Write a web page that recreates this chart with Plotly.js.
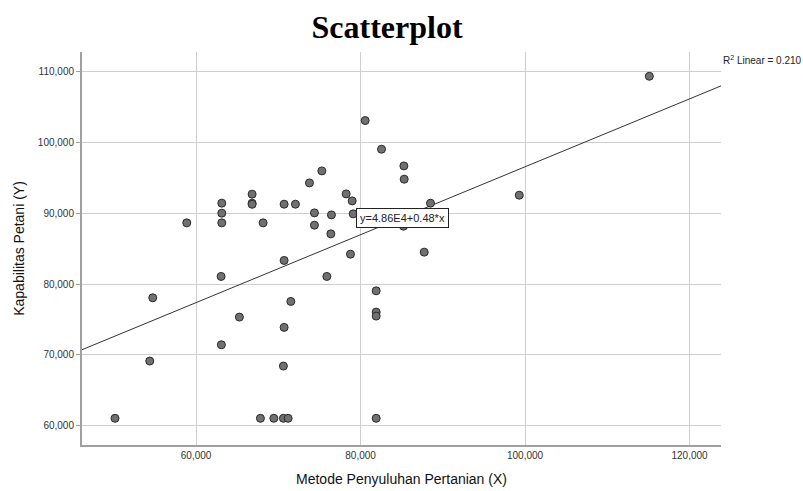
<!DOCTYPE html>
<html>
<head>
<meta charset="utf-8">
<script src="https://cdn.plot.ly/plotly-3.0.1.min.js"></script>
<style>html,body{margin:0;padding:0;background:#fff;}#chart{width:803px;height:491px;}</style>
</head>
<body>
<div id="chart"></div>
<script>
// Metode Penyuluhan Pertanian (X)
const metodeX = [50146, 54368, 54733, 58869, 63041, 63078, 63126, 63126, 63126, 65268,
  66812, 66812, 66812, 67822, 68151, 69452, 70620, 70620, 70705, 70705,
  70705, 71192, 71520, 72080, 73783, 74391, 74391, 75291, 75899, 76386,
  76459, 78248, 78771, 78978, 79099, 80559, 81897, 81897, 81897, 81897,
  82544, 85220, 85266, 85302, 87736, 88502, 99293, 115107];
// Kapabilitas Petani (Y)
const kapabilitasY = [61046, 69139, 78080, 88673, 81100, 71442, 91455, 90043, 88673, 75354,
  92726, 91455, 91300, 61046, 88673, 61046, 61046, 68434, 73899, 83362,
  91314, 61046, 77571, 91314, 94322, 90085, 88348, 96017, 81100, 87120,
  89802, 92769, 84251, 91780, 89944, 103135, 79068, 76060, 75495, 61046,
  99082, 88207, 96723, 94845, 84534, 91455, 92585, 109393];
// Fit line from the chart's label: y = 4.86E4 + 0.48*x
const fitIntercept = 48600;
const fitSlope = 0.48;
const rSquared = 0.210;
const xRange = [46131, 123820];
const yRange = [57274, 112825];

const fitX = xRange.slice();
const fitY = fitX.map(x => fitIntercept + fitSlope * x);

const font = 'Liberation Sans, Arial, sans-serif';
const traces = [
  {x: fitX, y: fitY, type: 'scatter', mode: 'lines',
   line: {color: '#333333', width: 1}, hoverinfo: 'skip', showlegend: false},
  {x: metodeX, y: kapabilitasY, type: 'scatter', mode: 'markers',
   marker: {size: 8, color: '#707070', line: {color: '#2a2a2a', width: 1}}, showlegend: false}
];
const layout = {
  width: 803, height: 491,
  margin: {l: 82, r: 82, t: 52, b: 46},
  paper_bgcolor: '#fff', plot_bgcolor: '#fff',
  font: {family: font, color: '#222'},
  title: {text: '<b>Scatterplot</b>', font: {family: 'Liberation Serif, Times New Roman, serif', size: 32, color: '#000'},
          x: 0.482, xref: 'container', xanchor: 'center', y: 0.945, yref: 'container', yanchor: 'middle'},
  xaxis: {range: xRange, dtick: 20000, tick0: 0, tickformat: ',d',
          showgrid: true, gridcolor: '#cfcfcf', gridwidth: 1, zeroline: false,
          showline: true, linecolor: '#a0a0a0', linewidth: 2,
          ticks: '', tickfont: {size: 10, color: '#333', family: font},
          title: {text: 'Metode Penyuluhan Pertanian (X)', font: {size: 14, color: '#111', family: font}, standoff: 14}},
  yaxis: {range: yRange, dtick: 10000, tick0: 0, tickformat: ',d',
          showgrid: true, gridcolor: '#cfcfcf', gridwidth: 1, zeroline: false,
          showline: true, linecolor: '#a0a0a0', linewidth: 2,
          ticks: 'outside', ticklen: 4, tickcolor: '#a0a0a0',
          tickfont: {size: 10, color: '#333', family: font},
          title: {text: 'Kapabilitas Petani (Y)', font: {size: 14, color: '#111', family: font}, standoff: 10}},
  annotations: [
    {x: 85060, y: 89300, xref: 'x', yref: 'y', text: 'y=4.86E4+0.48*x', showarrow: false,
     font: {size: 11, color: '#222', family: font}, bgcolor: '#fff', bordercolor: '#222', borderwidth: 1, borderpad: 3},
    {x: 1.0, y: 0.979, xref: 'paper', yref: 'paper', xanchor: 'left', yanchor: 'middle',
     text: 'R<sup>2</sup> Linear = ' + rSquared.toFixed(3), showarrow: false,
     font: {size: 10, color: '#222', family: font}}
  ]
};
Plotly.newPlot('chart', traces, layout, {displayModeBar: false, staticPlot: true});
</script>
</body>
</html>
